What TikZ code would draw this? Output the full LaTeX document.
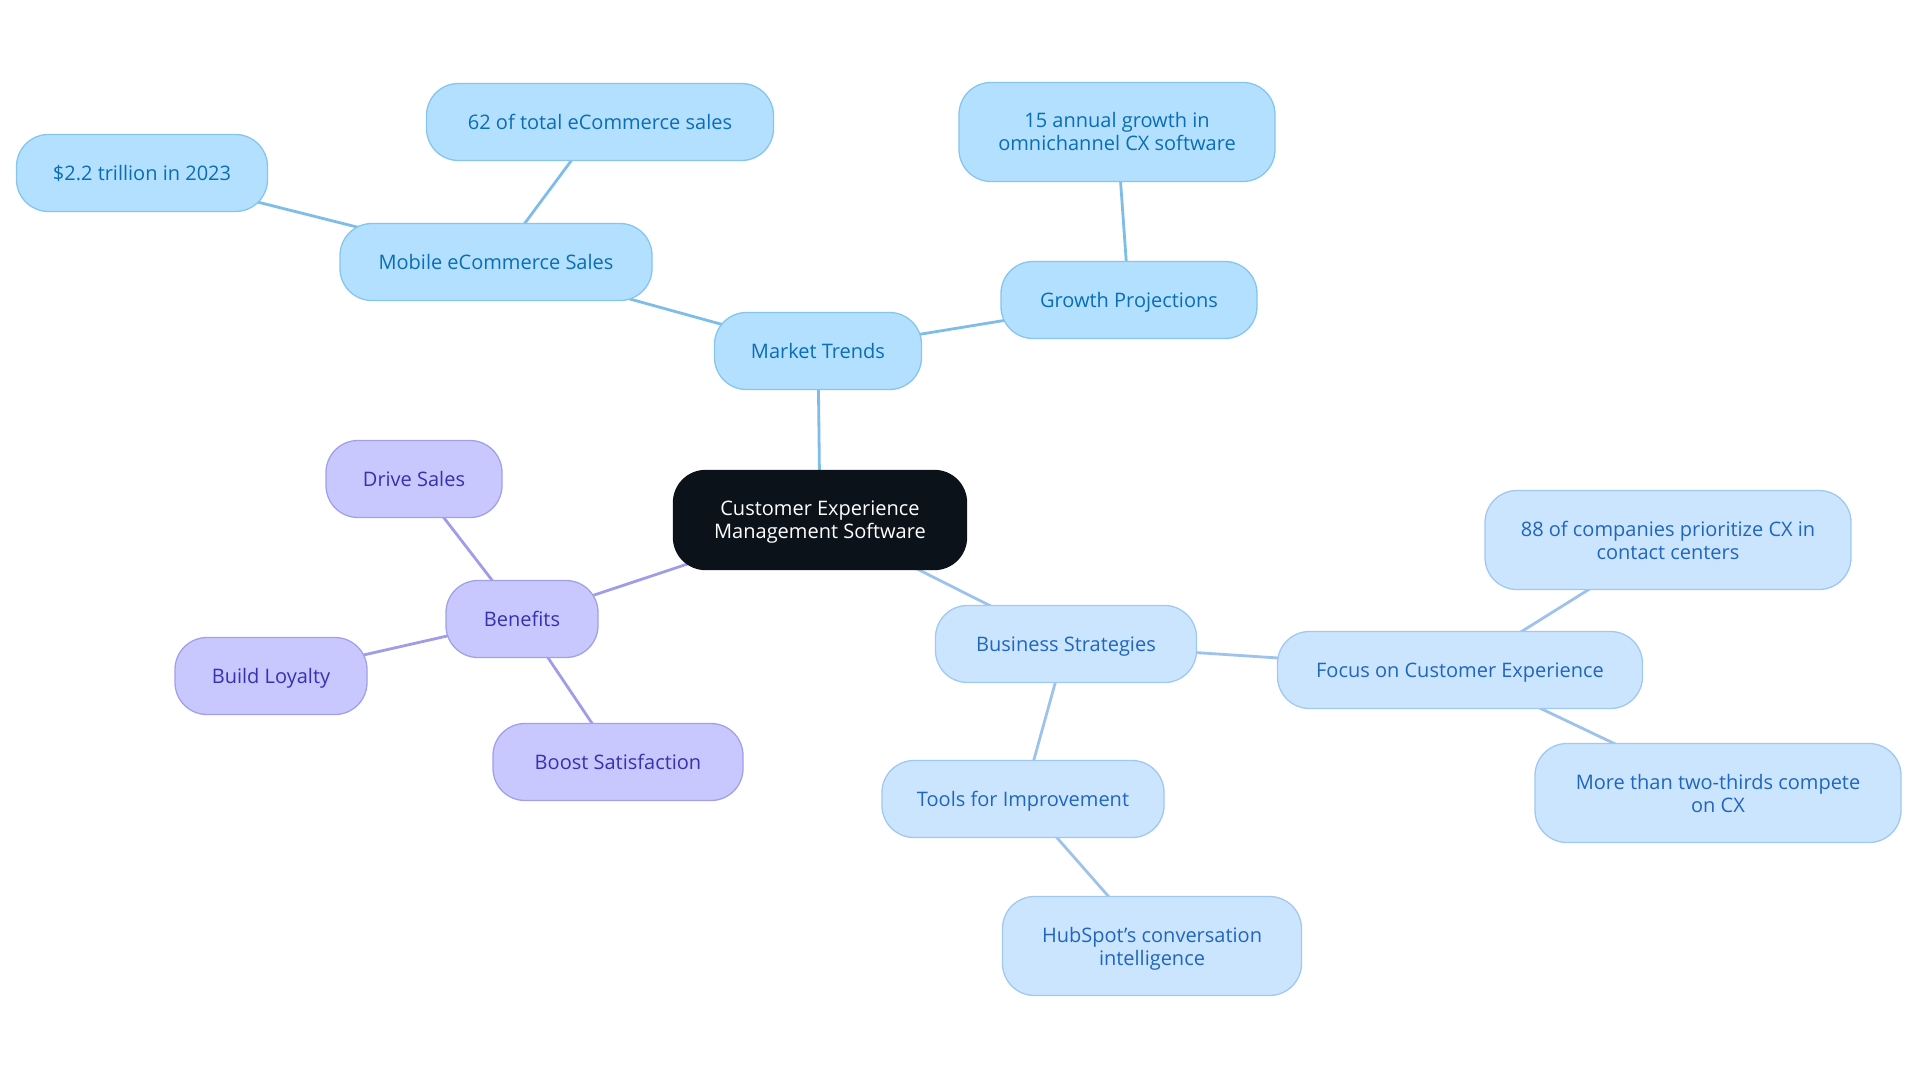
\documentclass[tikz,border=0pt]{standalone}
\usepackage{fontspec}
\setmainfont{Open Sans}
\usetikzlibrary{backgrounds}
\definecolor{mfill}{HTML}{B3E0FF}
\definecolor{mdraw}{HTML}{86C5EE}
\definecolor{mtext}{HTML}{0A6DB5}
\definecolor{mline}{HTML}{7DBDE8}
\definecolor{bfill}{HTML}{CCE5FF}
\definecolor{bdraw}{HTML}{A0C8F0}
\definecolor{btext}{HTML}{1F66BE}
\definecolor{bline}{HTML}{9DC3EC}
\definecolor{pfill}{HTML}{C8C8FF}
\definecolor{pdraw}{HTML}{A3A0EA}
\definecolor{ptext}{HTML}{3532AE}
\definecolor{pline}{HTML}{A19CE8}
\definecolor{cfill}{HTML}{0C121A}
\begin{document}
\begin{tikzpicture}[x=1pt,y=-1pt,
  base/.style={rounded corners=32pt, minimum height=77pt, align=center,
    font=\fontsize{20}{23}\selectfont, line width=1.3pt, inner sep=0pt},
  one/.style={text height=15pt, text depth=0pt},
  tall/.style={minimum height=99pt},
  nodepth/.style={text depth=0pt},
  mnode/.style={base, fill=mfill, draw=mdraw, text=mtext},
  bnode/.style={base, fill=bfill, draw=bdraw, text=btext},
  pnode/.style={base, fill=pfill, draw=pdraw, text=ptext},
  cnode/.style={base, fill=cfill, draw=cfill, text=white},
  mlink/.style={draw=mline, line width=2.8pt},
  blink/.style={draw=bline, line width=2.8pt},
  plink/.style={draw=pline, line width=2.8pt}]
\useasboundingbox (0,0) rectangle (1920,1083);

\node[cnode, tall, nodepth, minimum width=293pt] (center) at (820,520) {Customer Experience\\Management Software};

\node[mnode, one, minimum width=207pt] (mt) at (818,351) {Market Trends};
\node[mnode, one, minimum width=312pt] (mob) at (496,262) {Mobile eCommerce Sales};
\node[mnode, one, minimum width=347pt] (sixtytwo) at (600,122) {62 of total eCommerce sales};
\node[mnode, one, minimum width=251pt] (trillion) at (142,173) {\$2.2 trillion in 2023};
\node[mnode, one, minimum width=256pt] (growth) at (1129,300) {Growth Projections};
\node[mnode, tall, minimum width=316pt] (fifteen) at (1117,132) {15 annual growth in\\omnichannel CX software};

\node[pnode, one, minimum width=152pt] (benefits) at (522,619) {Benefits};
\node[pnode, one, minimum width=176pt] (drive) at (414,479) {Drive Sales};
\node[pnode, one, minimum width=192pt] (loyalty) at (271,676) {Build Loyalty};
\node[pnode, one, minimum width=250pt] (boost) at (618,762) {Boost Satisfaction};

\node[bnode, one, minimum width=261pt] (biz) at (1066,644) {Business Strategies};
\node[bnode, one, minimum width=365pt] (focus) at (1460,670) {Focus on Customer Experience};
\node[bnode, tall, minimum width=366pt] (eightyeight) at (1668,540) {88 of companies prioritize CX in\\contact centers};
\node[bnode, tall, minimum width=366pt] (twothirds) at (1718,793) {More than two-thirds compete\\on CX};
\node[bnode, one, minimum width=282pt] (tools) at (1023,799) {Tools for Improvement};
\node[bnode, tall, nodepth, minimum width=299pt] (hubspot) at (1152,946) {HubSpot’s conversation\\intelligence};

\begin{scope}[on background layer]
\fill[white] (0,0) rectangle (1920,1083);
\draw[mlink] (center.center) -- (mt.center);
\draw[mlink] (mt.center) -- (mob.center);
\draw[mlink] (mob.center) -- (sixtytwo.center);
\draw[mlink] (mob.center) -- (trillion.center);
\draw[mlink] (mt.center) -- (growth.center);
\draw[mlink] (growth.center) -- (fifteen.center);
\draw[plink] (center.center) -- (benefits.center);
\draw[plink] (benefits.center) -- (drive.center);
\draw[plink] (benefits.center) -- (loyalty.center);
\draw[plink] (benefits.center) -- (boost.center);
\draw[blink] (center.center) -- (biz.center);
\draw[blink] (biz.center) -- (focus.center);
\draw[blink] (focus.center) -- (eightyeight.center);
\draw[blink] (focus.center) -- (twothirds.center);
\draw[blink] (biz.center) -- (tools.center);
\draw[blink] (tools.center) -- (hubspot.center);
\end{scope}
\end{tikzpicture}
\end{document}
